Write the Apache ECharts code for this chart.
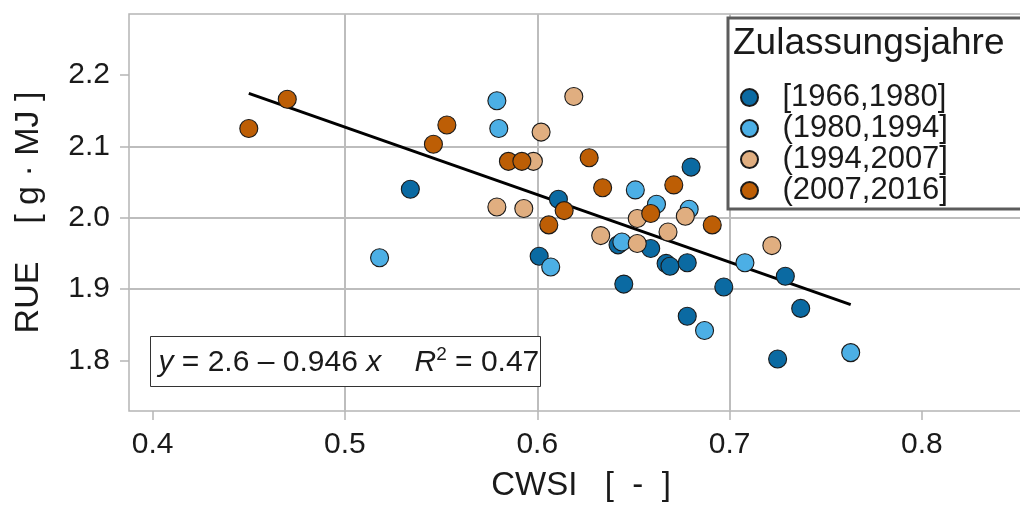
<!DOCTYPE html>
<html>
<head>
<meta charset="utf-8">
<script src="https://cdn.jsdelivr.net/npm/echarts@6/dist/echarts.min.js"></script>
<style>
  html, body { margin: 0; padding: 0; background: #ffffff; }
  #chart { width: 1020px; height: 507px; }
</style>
</head>
<body>
<div id="chart"></div>
<script>
// Registration-year classes
const groupNames = ['[1966,1980]', '(1980,1994]', '(1994,2007]', '(2007,2016]'];

// CWSI [-] and RUE [g·MJ] per class
const cwsi1966 = [0.534, 0.611, 0.680, 0.601, 0.642, 0.659, 0.667, 0.669, 0.678, 0.645, 0.697, 0.678, 0.729, 0.737, 0.725];
const rue1966  = [2.040, 2.026, 2.071, 1.946, 1.962, 1.957, 1.936, 1.932, 1.937, 1.907, 1.903, 1.862, 1.918, 1.873, 1.802];

const cwsi1980 = [0.518, 0.579, 0.580, 0.607, 0.651, 0.662, 0.679, 0.708, 0.687, 0.763, 0.644];
const rue1980  = [1.944, 2.164, 2.125, 1.931, 2.039, 2.019, 2.012, 1.937, 1.842, 1.811, 1.966];

const cwsi1994 = [0.619, 0.602, 0.598, 0.579, 0.593, 0.633, 0.652, 0.652, 0.668, 0.677, 0.722];
const rue1994  = [2.170, 2.120, 2.079, 2.015, 2.013, 1.975, 1.999, 1.964, 1.980, 2.002, 1.961];

const cwsi2007 = [0.450, 0.470, 0.546, 0.553, 0.585, 0.592, 0.627, 0.634, 0.671, 0.691, 0.606, 0.614, 0.659];
const rue2007  = [2.125, 2.166, 2.103, 2.130, 2.079, 2.079, 2.084, 2.042, 2.046, 1.990, 1.990, 2.010, 2.006];

// Linear fit stated in the annotation
const fitIntercept = 2.6;
const fitSlope = -0.946;
const fitR2 = 0.47;

// Tick labels
const xTicks = [0.4, 0.5, 0.6, 0.7, 0.8];
const yTicks = [1.8, 1.9, 2.0, 2.1, 2.2];

const groupColors = ['#0b6aa2', '#4cafe5', '#e0ae80', '#bd5e05'];
const groupX = [cwsi1966, cwsi1980, cwsi1994, cwsi2007];
const groupY = [rue1966, rue1980, rue1994, rue2007];

const FONT = '"Liberation Sans", Arial, Helvetica, sans-serif';
const GRID_COLOR = '#bdbdbd';
const FRAME_COLOR = '#b5b5b5';

const pairs = (xs, ys) => xs.map((x, i) => [x, ys[i]]);

const allX = [].concat(...groupX);
const fitX0 = Math.min(...allX);
const fitX1 = Math.max(...allX);
const fitLine = [
  [fitX0, fitIntercept + fitSlope * fitX0],
  [fitX1, fitIntercept + fitSlope * fitX1]
];

const scatterSeries = groupNames.map((name, k) => ({
  name: name,
  type: 'scatter',
  z: 3,
  symbol: 'circle',
  symbolSize: 18,
  data: pairs(groupX[k], groupY[k]),
  itemStyle: { color: groupColors[k], borderColor: '#1a1a1a', borderWidth: 1.1, opacity: 1 },
  emphasis: { disabled: true }
}));

const chart = echarts.init(document.getElementById('chart'), null, { renderer: 'canvas' });

chart.setOption({
  animation: false,
  backgroundColor: '#ffffff',
  textStyle: { fontFamily: FONT },
  grid: {
    left: 129, top: 14, width: 904, height: 397,
    outerBoundsMode: 'none',
    containLabel: false,
    show: true, backgroundColor: '#ffffff',
    borderColor: FRAME_COLOR, borderWidth: 1.5
  },
  xAxis: {
    type: 'value',
    min: 0.3877, max: 0.8578,
    splitNumber: 5,
    name: 'CWSI   [  -  ]',
    nameLocation: 'middle',
    nameGap: 58,
    nameTextStyle: { fontSize: 33, color: '#1a1a1a', fontFamily: FONT },
    axisLine: { show: false },
    axisTick: { show: true, customValues: xTicks, length: 9, lineStyle: { color: FRAME_COLOR, width: 1.5 } },
    axisLabel: { customValues: xTicks, fontSize: 30, color: '#1a1a1a', margin: 19, fontFamily: FONT,
                 formatter: v => String(Math.round(v * 10) / 10) },
    splitLine: { show: true, showMinLine: false, showMaxLine: false, lineStyle: { color: GRID_COLOR, width: 2 } }
  },
  yAxis: {
    type: 'value',
    min: 1.7292, max: 2.2855,
    splitNumber: 5,
    name: 'RUE    [ g · MJ ]',
    nameLocation: 'middle',
    nameGap: 83,
    nameTextStyle: { fontSize: 34, color: '#1a1a1a', fontFamily: FONT },
    axisLine: { show: false },
    axisTick: { show: true, customValues: yTicks, length: 9, lineStyle: { color: FRAME_COLOR, width: 1.5 } },
    axisLabel: { customValues: yTicks, fontSize: 30, color: '#1a1a1a', margin: 19, fontFamily: FONT,
                 formatter: v => v.toFixed(1) },
    splitLine: { show: true, showMinLine: false, showMaxLine: false, lineStyle: { color: GRID_COLOR, width: 2 } }
  },
  legend: {
    data: groupNames,
    orient: 'vertical',
    left: 728, top: 18,
    padding: [64, 120, 3, 12],
    itemWidth: 20, itemHeight: 17,
    itemGap: 0,
    icon: 'circle',
    backgroundColor: '#ffffff',
    borderColor: '#5c5c5c', borderWidth: 3,
    selectedMode: false,
    textStyle: { fontSize: 31, color: '#1a1a1a', fontFamily: FONT, lineHeight: 31, padding: [0, 0, 0, 18] }
  },
  graphic: [
    {
      type: 'text', z: 100,
      left: 733, top: 25,
      style: { text: 'Zulassungsjahre', font: '37px ' + FONT, fill: '#1a1a1a' }
    },
    {
      type: 'group', z: 100,
      left: 150, top: 336,
      children: [
        { type: 'rect', z: 100, shape: { x: 0, y: 0, width: 390, height: 50 },
          style: { fill: '#ffffff', stroke: '#333333', lineWidth: 1 } },
        { type: 'text', z: 101, x: 8, y: 26,
          style: {
            text: '{i|y} = ' + fitIntercept + ' – ' + Math.abs(fitSlope) + ' {i|x}    {i|R}{s|2} = ' + fitR2,
            font: '30px ' + FONT, fill: '#1a1a1a', verticalAlign: 'middle',
            rich: {
              i: { fontStyle: 'italic', fontSize: 30, fontFamily: FONT, fill: '#1a1a1a' },
              s: { fontSize: 19, fontFamily: FONT, padding: [0, 0, 16, 0], fill: '#1a1a1a' }
            }
          } }
      ]
    }
  ],
  series: [
    {
      name: 'fit', type: 'line', z: 2,
      data: fitLine, symbol: 'none', silent: true,
      lineStyle: { color: '#000000', width: 3 }
    }
  ].concat(scatterSeries)
});
</script>
</body>
</html>
